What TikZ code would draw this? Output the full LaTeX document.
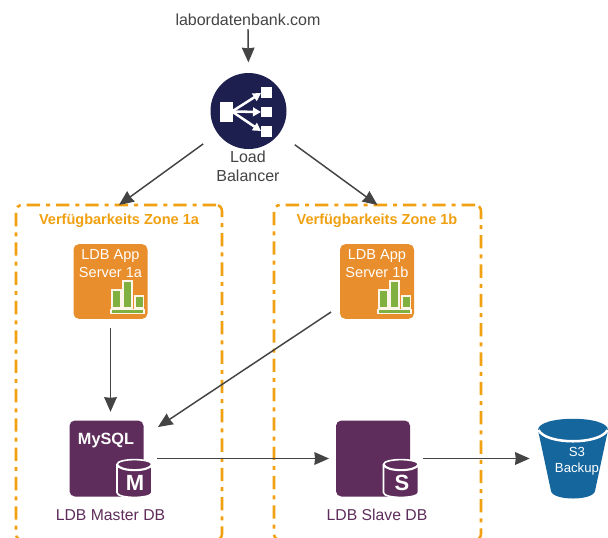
\documentclass[tikz,border=0pt]{standalone}
\usepackage{fontspec}
\setmainfont{Liberation Sans}
\usetikzlibrary{arrows.meta}
\definecolor{labelgrey}{HTML}{444444}
\definecolor{linegrey}{HTML}{444444}
\definecolor{zoneorange}{HTML}{F0A010}
\definecolor{apporange}{HTML}{E98E2C}
\definecolor{chartgreen}{HTML}{7FB040}
\definecolor{dbpurple}{HTML}{5E2D5B}
\definecolor{navy}{HTML}{1D1F4F}
\definecolor{bucketblue}{HTML}{16669E}
\tikzset{
  conn/.style={draw=linegrey,line width=1.1pt,-{Stealth[length=11pt,width=9.5pt,inset=0.5pt]}},
  zonebox/.style={draw=zoneorange,line width=1.9pt,rounded corners=4.5pt,
    dash pattern=on 10pt off 4.5pt on 3pt off 4.5pt,inner sep=0pt,outer sep=0pt},
  zonetitle/.style={text=zoneorange,font=\fontsize{10.9}{13}\selectfont\bfseries,inner sep=0pt},
  appbox/.style={fill=apporange,rounded corners=4pt,minimum width=55.5pt,minimum height=56pt,inner sep=0pt,outer sep=0pt},
  apptext/.style={text=white,font=\fontsize{10.9}{13.5}\selectfont,align=center,inner sep=0pt},
  dbbox/.style={fill=dbpurple,rounded corners=4pt,minimum width=55.5pt,minimum height=57pt,inner sep=0pt,outer sep=0pt},
  dblabel/.style={text=dbpurple,font=\fontsize{11.8}{14}\selectfont,inner sep=0pt},
  dbletter/.style={text=white,font=\fontsize{16.5}{18}\selectfont\bfseries,inner sep=0pt},
  grey label/.style={text=labelgrey,font=\fontsize{12}{14.25}\selectfont,align=center,inner sep=0pt},
  bar/.style={fill=chartgreen,draw=white!90!apporange,line width=0.8pt},
  fan/.style={draw=white,line width=1.9pt,-{Triangle[length=6pt,width=6.5pt]}},
}
\newcommand{\chartat}[2]{%
  \begin{scope}[shift={(#1,#2)}]
    \path[bar] (1.5,8.5) rectangle (10.5,26.5);
    \path[bar] (12.5,-0.5) rectangle (21.5,26.5);
    \path[bar] (24.5,14.5) rectangle (33,26.5);
    \path[bar] (0.5,28) rectangle (33.5,32);
  \end{scope}}
\newcommand{\cylat}[2]{%
  \begin{scope}[shift={(#1,#2)}]
    \path[fill=dbpurple,draw=white,line width=1.2pt] (-17.5,5) -- (-17.5,33)
      .. controls (-17.5,39.5) and (17.5,39.5) .. (17.5,33) -- (17.5,5)
      .. controls (17.5,-1.5) and (-17.5,-1.5) .. (-17.5,5) -- cycle;
    \draw[white,line width=1.6pt] (-17.5,5) .. controls (-15,12.5) and (15,12.5) .. (17.5,5);
  \end{scope}}
\begin{document}
\begin{tikzpicture}[x=0.75pt,y=-0.75pt]
\useasboundingbox (0,0) rectangle (608,537);
\clip (0,0) rectangle (608,537);
\fill[white] (0,0) rectangle (608,537);

% zones
\node[zonebox,minimum width=154.5pt,minimum height=251.25pt] (zonea) at (119,372.5) {};
\node[zonebox,minimum width=155.25pt,minimum height=251.25pt] (zoneb) at (377.5,372.5) {};
\node[zonetitle] (titlea) at (119,221) {Verfügbarkeits Zone 1a};
\node[zonetitle] (titleb) at (377,221) {Verfügbarkeits Zone 1b};

% url + load balancer
\node[grey label] (url) at (248,20) {labordatenbank.com};
\node[circle,fill=navy,minimum size=57pt,inner sep=0pt,outer sep=0pt] (lb) at (248.5,111) {};
\fill[white] (219.5,101.5) rectangle (232.7,121.5);
\fill[white] (260.7,87.3) rectangle (272,98.3);
\fill[white] (260.7,106.7) rectangle (272,117.3);
\fill[white] (260.7,126) rectangle (272,136.7);
\draw[fan] (232,111.5) -- (261,93);
\draw[fan] (232,111.5) -- (261,112);
\draw[fan] (232,111.5) -- (261,131);
\node[grey label] (lblabel) at (248,166) {Load\\Balancer};

% app servers
\node[appbox] (appa) at (110.5,281.5) {};
\node[appbox] (appb) at (377,281.5) {};
\node[apptext] (appatext) at (110.5,263.5) {LDB App\\Server 1a};
\node[apptext] (appbtext) at (377,264) {LDB App\\Server 1b};
\chartat{110.5}{281.5}
\chartat{377.5}{281.5}

% databases
\node[dbbox] (master) at (106.5,458.5) {};
\node[dbbox] (slave) at (373,458.5) {};
\cylat{134.5}{459.5}
\cylat{401}{459.5}
\node[text=white,font=\fontsize{12.2}{14}\selectfont\bfseries,inner sep=0pt] (mysql) at (106,440) {MySQL};
\node[dbletter] (mletter) at (135,482.5) {M};
\node[dbletter] (sletter) at (402,482.5) {S};
\node[dblabel] (masterlabel) at (110.5,515) {LDB Master DB};
\node[dblabel] (slavelabel) at (377,515) {LDB Slave DB};

% bucket
\path[fill=bucketblue] (538,430) -- (551,491)
  .. controls (553,501) and (593,501) .. (595,491) -- (608,430)
  .. controls (608,415) and (538,415) .. (538,430) -- cycle;
\draw[white,line width=1.9pt] (538.5,430) .. controls (546,445) and (600,445) .. (607.5,430);
\node[text=white,font=\fontsize{9.9}{12}\selectfont,align=center,inner sep=0pt,minimum width=58.5pt] (bucket) at (577,461) {S3\\Backup};

% connectors
\draw[conn,shorten >=8pt] (url.south |- 0,29) -- (lb.north);
\draw[conn,shorten <=13.5pt] (lb) -- (zonea.north);
\draw[conn,shorten <=14.5pt] (lb) -- (zoneb.north);
\draw[conn,shorten <=7pt,shorten >=6.5pt] (appa.south) -- (appa.south |- master.north);
\draw[conn] ([xshift=-34.5pt,yshift=-22.9pt]appb.center) -- ([xshift=38.6pt,yshift=23.6pt]master.center);
\draw[conn,shorten <=10pt,shorten >=5.2pt] (master.east) -- (slave.west);
\draw[conn,shorten <=9.8pt,shorten >=6pt] (slave.east) -- (bucket.west |- slave.east);
\end{tikzpicture}
\end{document}
